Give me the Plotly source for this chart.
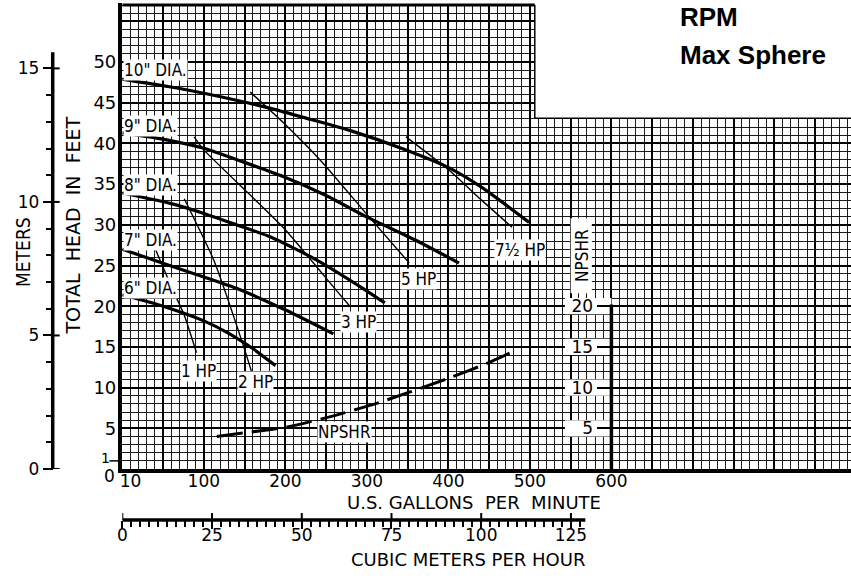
import plotly.graph_objects as go

# ---------------- data ----------------
dia10_gpm = [0, 67, 140, 182, 222, 279, 348, 401, 441, 499]
dia10_ft = [47.9, 46.8, 45.3, 44.3, 43.2, 41.6, 39.2, 37.0, 34.6, 30.3]
dia9_gpm = [0, 51, 100, 149, 198, 250, 299, 360, 413]
dia9_ft = [41.3, 40.5, 39.4, 37.7, 35.9, 33.6, 31.0, 28.1, 25.3]
dia8_gpm = [0, 60, 100, 140, 182, 238, 295, 322]
dia8_ft = [33.9, 32.6, 31.4, 30.0, 28.5, 25.7, 22.2, 20.4]
dia7_gpm = [0, 49, 100, 140, 201, 259]
dia7_ft = [27.0, 25.3, 23.6, 22.2, 19.5, 16.6]
dia6_gpm = [0, 50, 100, 130, 160, 188]
dia6_ft = [21.4, 20.0, 18.2, 16.7, 14.8, 12.7]

hp1_gpm = [41, 61, 76, 91]
hp1_ft = [26.9, 22.2, 18.9, 14.3]
hp2_gpm = [76, 112, 149, 159]
hp2_ft = [33.2, 25.7, 15.0, 11.8]
hp3_gpm = [88, 100, 198, 262, 280]
hp3_ft = [40.8, 39.2, 29.6, 22.0, 19.9]
hp5_gpm = [157, 198, 246, 299, 352]
hp5_ft = [46.3, 42.5, 37.6, 31.4, 25.3]
hp75_gpm = [348, 401, 441, 478]
hp75_ft = [40.8, 36.7, 33.0, 29.7]

npshr_gpm = [116, 204, 258, 307, 354, 399, 448, 483]
npshr_ft = [4.0, 5.2, 6.5, 7.9, 9.5, 11.1, 13.0, 14.6]

dia_labels = ['10" DIA.', '9" DIA.', '8" DIA.', '7" DIA.', '6" DIA.']
dia_label_ft = [49.0, 42.1, 34.9, 28.1, 22.2]
hp_labels = ['1 HP', '2 HP', '3 HP', '5 HP', '7½ HP']
hp_label_gpm = [93, 163, 290, 363, 488]
hp_label_ft = [12.0, 10.7, 18.1, 23.3, 26.9]

gpm_ticks = [10, 100, 200, 300, 400, 500, 600]
feet_ticks = [5, 10, 15, 20, 25, 30, 35, 40, 45, 50]
meter_ticks = [0, 5, 10, 15]
npshr_ticks = [5, 10, 15, 20]
cmh_ticks = [0, 25, 50, 75, 100, 125]

FT_PER_M = 3.281
GPM_PER_CMH = 4.40287
METER_SCALE_TOP = 15.6
CMH_SCALE_END = 129

# ---------------- layout geometry ----------------
W, H = 851, 582
H_EFF = 572                # height the page is actually drawn at
X0, Y0 = 118, 469          # pixel of the origin
PXG, PXF = 0.82, 8.14      # pixels per gpm / per foot
YTOP = 3
XMAX = (W - X0) / PXG
YMAX = (Y0 - YTOP) / PXF
GRID_TOP = 57.0
CUT_X, CUT_Y = 506, 43.1
NPSHR_X = 600


def px(x):
    return x / W


def py(y):
    return 1 - y / H_EFF


LABEL_FONT = dict(family="DejaVu Sans Condensed, DejaVu Sans", size=17, color="black")
num_font = dict(family="DejaVu Sans", size=17, color="black")

meter_minor = [v for v in range(0, 16) if v not in meter_ticks]
cmh_minor = [i * 2.5 for i in range(0, 52) if i * 2.5 not in cmh_ticks]

fig = go.Figure()

curves = [(dia10_gpm, dia10_ft), (dia9_gpm, dia9_ft), (dia8_gpm, dia8_ft),
          (dia7_gpm, dia7_ft), (dia6_gpm, dia6_ft)]
for gx, gy in curves:
    fig.add_trace(go.Scatter(x=gx, y=gy, mode="lines",
                             line=dict(color="black", width=3.2, shape="spline", smoothing=0.6),
                             hoverinfo="skip"))

hps = [(hp1_gpm, hp1_ft), (hp2_gpm, hp2_ft), (hp3_gpm, hp3_ft), (hp5_gpm, hp5_ft), (hp75_gpm, hp75_ft)]
for gx, gy in hps:
    fig.add_trace(go.Scatter(x=gx, y=gy, mode="lines",
                             line=dict(color="black", width=1.4, shape="spline", smoothing=0.5),
                             hoverinfo="skip"))

fig.add_trace(go.Scatter(x=npshr_gpm, y=npshr_ft, mode="lines",
                         line=dict(color="black", width=3, dash="26px,9px", shape="spline", smoothing=0.5),
                         hoverinfo="skip"))

# invisible traces so the extra scale axes exist
for xa, ya in [("x2", "y"), ("x", "y2"), ("x", "y3"), ("x", "y4"), ("x3", "y")]:
    fig.add_trace(go.Scatter(x=[0], y=[0], xaxis=xa, yaxis=ya, mode="markers",
                             marker=dict(opacity=0), hoverinfo="skip"))

fig.update_layout(
    width=W, height=H, autosize=False, margin=dict(l=0, r=0, t=0, b=0, pad=0),
    paper_bgcolor="white", plot_bgcolor="rgba(0,0,0,0)", showlegend=False,
    font=dict(family="DejaVu Sans", color="black", size=16),
    xaxis=dict(domain=[px(X0), 1], range=[0, XMAX], tick0=0, dtick=50, showgrid=True,
               gridcolor="black", gridwidth=2.2,
               minor=dict(tick0=0, dtick=10, showgrid=True, gridcolor="#1a1a1a", gridwidth=1.1),
               showticklabels=False, ticks="", zeroline=False, showline=True,
               linecolor="black", linewidth=3.5, anchor="y", fixedrange=True),
    yaxis=dict(domain=[py(Y0), py(YTOP)], range=[0, YMAX], tick0=0, dtick=5, showgrid=True,
               gridcolor="black", gridwidth=2.2,
               minor=dict(tick0=0, dtick=1, showgrid=True, gridcolor="#1a1a1a", gridwidth=1.1),
               showticklabels=False, ticks="", zeroline=False, showline=True,
               linecolor="black", linewidth=3.5, anchor="x", fixedrange=True),
    xaxis2=dict(overlaying="x", anchor="y", side="bottom", range=[0, XMAX], tickmode="array",
                tickvals=gpm_ticks, ticktext=[str(v) for v in gpm_ticks], showgrid=False,
                zeroline=False, showline=False, ticks="", tickfont=num_font, ticklabelstandoff=0,
                fixedrange=True),
    yaxis2=dict(overlaying="y", anchor="x", side="left", range=[0, YMAX], tickmode="array",
                tickvals=feet_ticks, ticktext=[str(v) for v in feet_ticks], showgrid=False,
                zeroline=False, showline=False, ticks="",
                tickfont=dict(family="DejaVu Sans", size=18, color="black"),
                ticklabelstandoff=5, fixedrange=True),
    yaxis3=dict(overlaying="y", anchor="free", position=px(48), side="left", range=[0, YMAX / FT_PER_M],
                tickmode="array", tickvals=meter_ticks, ticktext=[str(v) for v in meter_ticks],
                ticks="outside", ticklen=10, tickwidth=2, tickcolor="black",
                minor=dict(tickmode="array", tickvals=meter_minor, ticks="outside", ticklen=7,
                           tickwidth=1.5, tickcolor="black", showgrid=False),
                showgrid=False, zeroline=False, showline=False, tickfont=num_font, ticklabelstandoff=0,
                fixedrange=True),
    yaxis4=dict(overlaying="y", anchor="free", position=px(X0 + NPSHR_X * PXG), side="left", range=[0, YMAX],
                tickmode="array", tickvals=npshr_ticks, ticktext=[str(v) for v in npshr_ticks],
                ticks="outside", ticklen=14, tickwidth=2, tickcolor="black", showgrid=False,
                zeroline=False, showline=False, tickfont=num_font, ticklabelstandoff=1, fixedrange=True),
    xaxis3=dict(overlaying="x", anchor="free", position=py(520), side="bottom", range=[0, XMAX / GPM_PER_CMH],
                tickmode="array", tickvals=cmh_ticks, ticktext=[str(v) for v in cmh_ticks],
                ticks="outside", ticklen=8, tickwidth=2, tickcolor="black",
                minor=dict(tickmode="array", tickvals=cmh_minor, ticks="outside", ticklen=6,
                           tickwidth=1.5, tickcolor="black", showgrid=False),
                showgrid=False, zeroline=False, showline=False, tickfont=num_font, ticklabelstandoff=-8,
                fixedrange=True),
)

shapes = []
# white cut-out of the graph paper (top right) and strip above the paper top
shapes.append(dict(type="rect", xref="x", yref="y", x0=CUT_X, x1=XMAX, y0=CUT_Y, y1=YMAX,
                   fillcolor="white", line=dict(width=0), layer="between"))
shapes.append(dict(type="rect", xref="x", yref="y", x0=0, x1=XMAX, y0=GRID_TOP, y1=YMAX,
                   fillcolor="white", line=dict(width=0), layer="between"))
shapes.append(dict(type="line", xref="x", yref="y", x0=CUT_X, x1=CUT_X, y0=CUT_Y, y1=GRID_TOP,
                   line=dict(color="black", width=1.5), layer="between"))
shapes.append(dict(type="line", xref="x", yref="y", x0=CUT_X, x1=XMAX, y0=CUT_Y, y1=CUT_Y,
                   line=dict(color="black", width=1.5), layer="between"))
shapes.append(dict(type="line", xref="x", yref="y", x0=0, x1=CUT_X, y0=GRID_TOP, y1=GRID_TOP,
                   line=dict(color="black", width=3), layer="between"))
# NPSHR scale line and label gaps
for v in npshr_ticks:
    shapes.append(dict(type="rect", xref="x", yref="y", x0=543, x1=NPSHR_X, y0=v - 1.0, y1=v + 1.0,
                       fillcolor="white", line=dict(width=0), layer="between"))
shapes.append(dict(type="rect", xref="x", yref="y", x0=550, x1=576, y0=21.6, y1=30.8,
                   fillcolor="white", line=dict(width=0), layer="between"))
shapes.append(dict(type="line", xref="x", yref="y", x0=NPSHR_X, x1=NPSHR_X, y0=0, y1=20.2,
                   line=dict(color="black", width=3.5), layer="above"))
# meters scale line
shapes.append(dict(type="line", xref="paper", yref="y3", x0=px(48), x1=px(48), y0=0, y1=METER_SCALE_TOP,
                   line=dict(color="black", width=3.5)))
for v in meter_ticks:
    shapes.append(dict(type="line", xref="paper", yref="y3", x0=px(48), x1=px(55), y0=v, y1=v,
                       line=dict(color="black", width=2)))
# cubic meters scale line
shapes.append(dict(type="line", xref="x3", yref="paper", x0=0, x1=CMH_SCALE_END, y0=py(520), y1=py(520),
                   line=dict(color="black", width=3.5)))
for v in cmh_ticks:
    shapes.append(dict(type="line", xref="x3", yref="paper", x0=v, x1=v, y0=py(520), y1=py(513),
                       line=dict(color="black", width=2)))
# small "1" foot tick
shapes.append(dict(type="line", xref="paper", yref="y", x0=px(105), x1=px(117), y0=1, y1=1,
                   line=dict(color="black", width=1.5)))
fig.update_layout(shapes=shapes)

ann = []
for t, yv in zip(dia_labels, dia_label_ft):
    ann.append(dict(text=t, x=1, y=yv, xref="x", yref="y", xanchor="left", yanchor="middle",
                    showarrow=False, bgcolor="white", borderpad=0, font=LABEL_FONT))
for t, xv, yv in zip(hp_labels, hp_label_gpm, hp_label_ft):
    ann.append(dict(text=t, x=xv, y=yv, xref="x", yref="y", xanchor="center", yanchor="middle",
                    showarrow=False, bgcolor="white", borderpad=0, font=LABEL_FONT))
ann.append(dict(text="NPSHR", x=273, y=4.5, xref="x", yref="y", xanchor="center", yanchor="middle",
                showarrow=False, bgcolor="white", borderpad=0, font=LABEL_FONT))
ann.append(dict(text="NPSHR", x=563, y=26.2, xref="x", yref="y", xanchor="center", yanchor="middle",
                showarrow=False, textangle=-90, font=LABEL_FONT))


def paper_text(t, x, y, size, family="DejaVu Sans", angle=0, xanchor="center"):
    ann.append(dict(text=t, x=px(x), y=py(y), xref="paper", yref="paper", xanchor=xanchor,
                    yanchor="middle", showarrow=False, textangle=angle,
                    font=dict(family=family, size=size, color="black")))


paper_text("0", 105, 476, 17)
paper_text("1", 101, 458, 14)
paper_text("U.S. GALLONS  PER  MINUTE", 472, 502, 18)
paper_text("CUBIC METERS PER HOUR", 466, 559, 18)
paper_text("TOTAL  HEAD  IN  FEET", 68, 226, 19, angle=-90)
paper_text("METERS", 18, 252, 19, family="DejaVu Sans Condensed, DejaVu Sans", angle=-90)
paper_text("<b>RPM</b>", 677, 17, 26, family="Liberation Sans", xanchor="left")
paper_text("<b>Max Sphere</b>", 677, 55, 26, family="Liberation Sans", xanchor="left")
fig.update_layout(annotations=ann)

fig.write_html("out.html",
               config={"displayModeBar": False, "responsive": False},
               post_script="document.body.style.margin='0px';document.body.style.padding='0px';"
                           "document.body.style.overflow='hidden';")
